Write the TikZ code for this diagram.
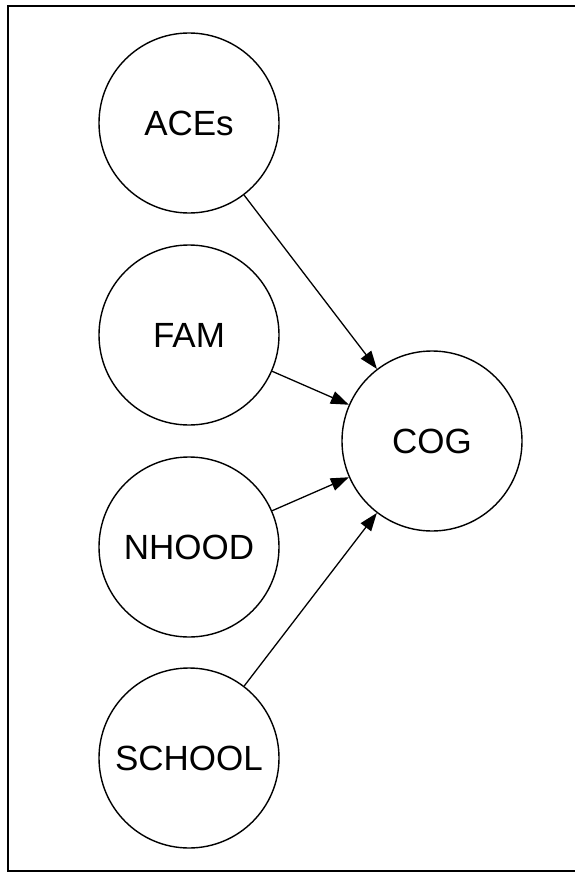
\documentclass[tikz,border=0pt]{standalone}
\usepackage{fontspec}
\setmainfont{Liberation Sans}
\usetikzlibrary{arrows.meta}

\tikzset{
  var/.style={circle, draw=black, line width=1.4pt, minimum size=180pt,
    inner sep=0pt, font=\fontsize{35}{42}\selectfont},
  path/.style={line width=1.3pt, -{Triangle[length=18pt,width=13pt]}},
  frame/.style={line width=2.6pt}
}

\begin{document}
\begin{tikzpicture}[x=1pt, y=-1pt]
  \useasboundingbox (0,0) rectangle (575,872);
  % outer frame (runs off the right edge)
  \draw[frame] (590,6) -- (8,6) -- (8,871) -- (590,871);

  % predictors
  \node[var] (aces)   at (189,123) {ACEs};
  \node[var] (fam)    at (189,335) {FAM};
  \node[var] (nhood)  at (189,547) {NHOOD};
  \node[var] (school) at (189,758) {SCHOOL};
  % outcome
  \node[var] (cog)    at (432,441) {COG};

  \draw[path] (aces)   -- (cog);
  \draw[path] (fam)    -- (cog);
  \draw[path] (nhood)  -- (cog);
  \draw[path] (school) -- (cog);
\end{tikzpicture}
\end{document}
